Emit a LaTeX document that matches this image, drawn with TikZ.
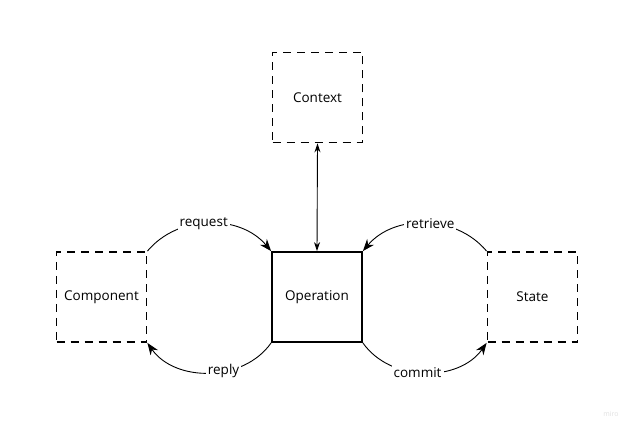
\documentclass[tikz,border=0pt]{standalone}
\usepackage{fontspec}
\setmainfont{Open Sans}
\usetikzlibrary{arrows.meta}
\begin{document}
\begin{tikzpicture}[x=1pt,y=-1pt,
  every node/.style={font=\fontsize{13.5}{16}\selectfont},
  dbox/.style={draw, line width=1.8pt, dash pattern=on 8pt off 6pt, minimum width=90pt, minimum height=90pt, inner sep=0pt},
  sbox/.style={draw, line width=1.8pt, minimum width=90pt, minimum height=90pt, inner sep=0pt},
  conn/.style={line width=0.9pt, -{Stealth[length=12pt,width=9pt]}},
  lbl/.style={fill=white, inner sep=2pt}]
\useasboundingbox (0,0) rectangle (640,435);
\node[dbox] (ctx) at (317.5,97.5) {Context};
\node[dbox] (comp) at (101.5,297) {Component};
\node[sbox] (op) at (317,297) {Operation};
\node[dbox] (state) at (532.5,297) {State};
\draw[line width=0.9pt, {Stealth[length=9pt,width=6pt]}-{Stealth[length=9pt,width=6pt]}] (ctx.south) -- (op.north);
\draw[conn] (comp.north east) to[bend left=50] node[lbl, pos=0.46] {request} (op.north west);
\draw[conn] (op.south west) to[bend left=55] node[lbl, pos=0.4] {reply} (comp.south east);
\draw[conn] (state.north west) to[bend right=50] node[lbl, pos=0.46] {retrieve} (op.north east);
\draw[conn] (op.south east) to[bend right=55] node[lbl, pos=0.45] {commit} (state.south west);
\node[text=black!12, font=\fontsize{7}{8}\selectfont] (wm) at (611,414) {miro};
\end{tikzpicture}
\end{document}
